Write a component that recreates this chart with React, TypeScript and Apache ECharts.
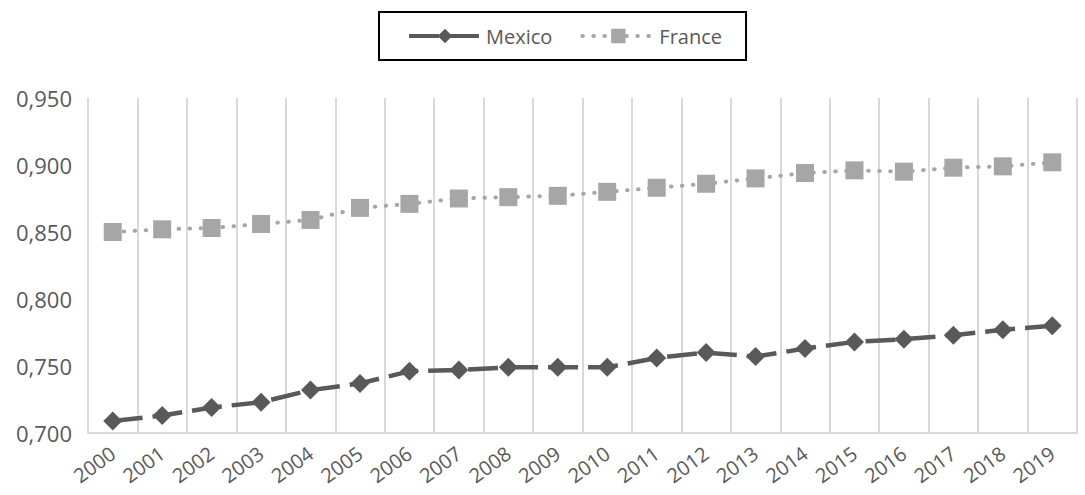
import { useEffect, useRef } from "react";
import * as echarts from "echarts";

const YEARS = [
  "2000", "2001", "2002", "2003", "2004", "2005", "2006", "2007", "2008", "2009",
  "2010", "2011", "2012", "2013", "2014", "2015", "2016", "2017", "2018", "2019",
];
const MEXICO = [
  0.709, 0.713, 0.719, 0.723, 0.732, 0.737, 0.746, 0.747, 0.749, 0.749,
  0.749, 0.756, 0.760, 0.757, 0.763, 0.768, 0.770, 0.773, 0.777, 0.780,
];
const FRANCE = [
  0.850, 0.852, 0.853, 0.856, 0.859, 0.868, 0.871, 0.875, 0.876, 0.877,
  0.880, 0.883, 0.886, 0.890, 0.894, 0.896, 0.895, 0.898, 0.899, 0.902,
];

const FONT = "'Open Sans', 'Noto Sans', sans-serif";

export default function App() {
  const ref = useRef<HTMLDivElement>(null);

  useEffect(() => {
    if (!ref.current) return;
    const chart = echarts.init(ref.current, undefined, { renderer: "svg" });
    chart.setOption({
      animation: false,
      backgroundColor: "#fff",
      textStyle: { fontFamily: FONT },
      legend: {
        top: 12,
        left: 379,
        borderColor: "#000",
        borderWidth: 2,
        padding: [14, 24, 14, 28],
        itemGap: 28,
        itemWidth: 72,
        itemHeight: 18,
        lineStyle: { width: 4 },
        textStyle: { fontSize: 20, color: "#595959", fontFamily: FONT },
        data: ["Mexico", "France"],
      },
      grid: { left: 88, right: 8, top: 98, bottom: 62 },
      xAxis: {
        type: "category",
        data: YEARS,
        boundaryGap: true,
        axisLine: { lineStyle: { color: "#d9d9d9", width: 2 } },
        axisTick: { show: false },
        splitLine: { show: true, lineStyle: { color: "#d9d9d9", width: 2 } },
        axisLabel: { rotate: 36, margin: 18, fontSize: 20, color: "#595959", fontFamily: FONT, interval: 0 },
      },
      yAxis: {
        type: "value",
        min: 0.7,
        max: 0.95,
        interval: 0.05,
        axisLine: { show: false },
        axisTick: { show: false },
        splitLine: { show: false },
        axisLabel: {
          fontSize: 22,
          color: "#595959",
          margin: 16,
          fontFamily: FONT,
          formatter: (v: number) => v.toFixed(3).replace(".", ","),
        },
      },
      series: [
        {
          name: "Mexico",
          type: "line",
          data: MEXICO,
          symbol: "diamond",
          symbolSize: 19,
          itemStyle: { color: "#595959" },
          lineStyle: { color: "#595959", width: 4.5, type: [30, 10] },
        },
        {
          name: "France",
          type: "line",
          data: FRANCE,
          symbol: "rect",
          symbolSize: 18,
          itemStyle: { color: "#a6a6a6" },
          lineStyle: { color: "#a6a6a6", width: 4, type: [0.5, 10.5], cap: "round" },
        },
      ],
    });
    const onResize = () => chart.resize();
    window.addEventListener("resize", onResize);
    return () => {
      window.removeEventListener("resize", onResize);
      chart.dispose();
    };
  }, []);

  return <div ref={ref} style={{ position: "fixed", left: 0, top: 0, width: "100vw", height: "100vh" }} />;
}
